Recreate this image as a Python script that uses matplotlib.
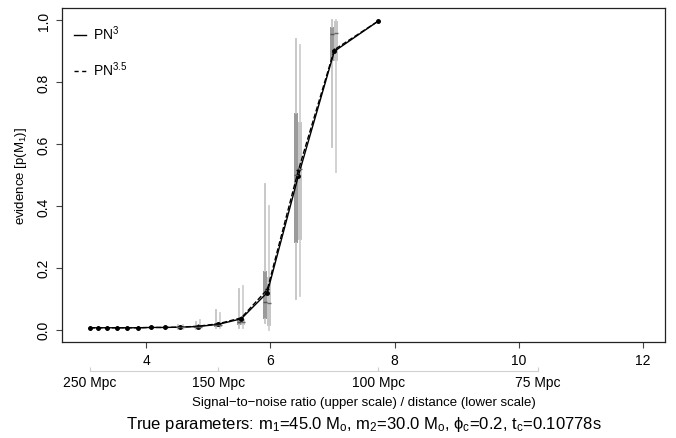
import matplotlib
matplotlib.use('Agg')
import matplotlib.pyplot as plt
import numpy as np

plt.rcParams['font.family'] = ['Liberation Sans', 'DejaVu Sans']
plt.rcParams['mathtext.fontset'] = 'custom'
plt.rcParams['mathtext.rm'] = 'Liberation Sans'
plt.rcParams['mathtext.it'] = 'Liberation Sans'

# distances (Mpc) and matching signal-to-noise ratio
dist = [250, 240, 230, 220, 210, 200, 190, 180, 170, 160, 150, 140, 130, 120, 110, 100]
snr = [3.09, 3.22, 3.36, 3.52, 3.68, 3.87, 4.07, 4.30, 4.55, 4.83, 5.16, 5.53, 5.95, 6.45, 7.03, 7.74]
ev_pn3 = [0.006, 0.006, 0.006, 0.006, 0.006, 0.006, 0.007, 0.007, 0.008, 0.010,
          0.017, 0.035, 0.12, 0.497, 0.90, 0.998]
ev_pn35 = [0.006, 0.006, 0.006, 0.006, 0.006, 0.006, 0.007, 0.007, 0.008, 0.011,
           0.019, 0.038, 0.13, 0.515, 0.905, 0.998]

# spread of the evidence (boxes) for the points where it is visible
box_snr = [4.55, 4.83, 5.16, 5.53, 5.95, 6.45, 7.03]
# PN3: q1, median, q3, whisker low, whisker high
pn3_q1 = [0.005, 0.006, 0.008, 0.015, 0.035, 0.28, 0.87]
pn3_med = [0.007, 0.009, 0.014, 0.025, 0.09, 0.50, 0.955]
pn3_q3 = [0.009, 0.013, 0.022, 0.035, 0.19, 0.70, 0.98]
pn3_lo = [0.003, 0.003, 0.004, 0.006, 0.02, 0.10, 0.59]
pn3_hi = [0.014, 0.026, 0.065, 0.13, 0.47, 0.94, 1.0]
# PN3.5
pn35_q1 = [0.005, 0.006, 0.009, 0.015, 0.012, 0.29, 0.87]
pn35_med = [0.007, 0.009, 0.015, 0.025, 0.085, 0.52, 0.96]
pn35_q3 = [0.009, 0.014, 0.024, 0.035, 0.17, 0.67, 0.997]
pn35_lo = [0.003, 0.003, 0.004, 0.005, 0.0, 0.11, 0.51]
pn35_hi = [0.015, 0.03, 0.055, 0.14, 0.40, 0.92, 1.0]

dist_ticks = [250, 150, 100, 75]
K = 773.5  # snr = K / distance

fig = plt.figure(figsize=(6.76, 4.39), dpi=100)
ax = fig.add_axes([0.0917, 0.2187, 0.892, 0.7608])


def stats(q1, med, q3, lo, hi):
    return [dict(q1=a, med=b, q3=c, whislo=d, whishi=e, fliers=[])
            for a, b, c, d, e in zip(q1, med, q3, lo, hi)]


off = 0.033
ax.bxp(stats(pn3_q1, pn3_med, pn3_q3, pn3_lo, pn3_hi),
       positions=np.array(box_snr) - off, widths=0.065, patch_artist=True,
       showcaps=False, manage_ticks=False,
       boxprops=dict(facecolor='#9a9a9a', edgecolor='none'),
       whiskerprops=dict(color='#c4c4c4', lw=1.3),
       medianprops=dict(color='#555555', lw=1))
ax.bxp(stats(pn35_q1, pn35_med, pn35_q3, pn35_lo, pn35_hi),
       positions=np.array(box_snr) + off, widths=0.065, patch_artist=True,
       showcaps=False, manage_ticks=False,
       boxprops=dict(facecolor='#c6c6c6', edgecolor='none'),
       whiskerprops=dict(color='#cfcfcf', lw=1.3),
       medianprops=dict(color='#666666', lw=1))

ax.plot(snr, ev_pn3, '-', color='black', lw=1, marker='o', ms=2.5, label='PN$^3$')
ax.plot(snr, ev_pn35, '--', color='black', lw=1, marker='+', ms=3.5, label='PN$^{3.5}$')

ax.set_xlim(2.64, 12.36)
ax.set_ylim(-0.04, 1.04)
ax.set_xticks([4, 6, 8, 10, 12])
ax.set_yticks([0, 0.2, 0.4, 0.6, 0.8, 1.0])
ax.set_yticklabels(['0.0', '0.2', '0.4', '0.6', '0.8', '1.0'], rotation=90, va='center')
ax.tick_params(labelsize=10, length=4, width=0.8, color='#444444', pad=4)
for s in ax.spines.values():
    s.set_linewidth(0.9)
    s.set_color('#222222')
ax.set_ylabel('evidence [p(M$_1$)]', fontsize=9.5, labelpad=6)

leg = ax.legend(loc='upper left', frameon=False, fontsize=10, handlelength=0.8,
                handletextpad=0.5, labelspacing=1.25, bbox_to_anchor=(0.0, 0.99))
for h in leg.legend_handles:
    h.set_marker('')
leg.legend_handles[1].set_linestyle((0, (3, 2.5)))

# lower distance scale
with np.errstate(divide='ignore'):
    sec = ax.secondary_xaxis(-0.087, functions=(lambda x: K / x, lambda d: K / d))
sec.set_xticks(dist_ticks)
sec.set_xticklabels([f'{d} Mpc' for d in dist_ticks])
sec.tick_params(direction='in', length=3, color='#cccccc', labelsize=10, pad=3)
sec.spines['bottom'].set_color('#d0d0d0')
sec.spines['bottom'].set_bounds(75, 250)

cx = (0.0917 + 0.0917 + 0.892) / 2
fig.text(cx, 1 - 403 / 439, 'Signal\u2212to\u2212noise ratio (upper scale) / distance (lower scale)',
         ha='center', va='center', fontsize=9.5)
fig.text(cx, 1 - 425 / 439,
         r'True parameters: m$_1$=45.0 M$_o$, m$_2$=30.0 M$_o$, $\phi_c$=0.2, t$_c$=0.10778s',
         ha='center', va='center', fontsize=12)

fig.savefig('out.png', dpi=100)
